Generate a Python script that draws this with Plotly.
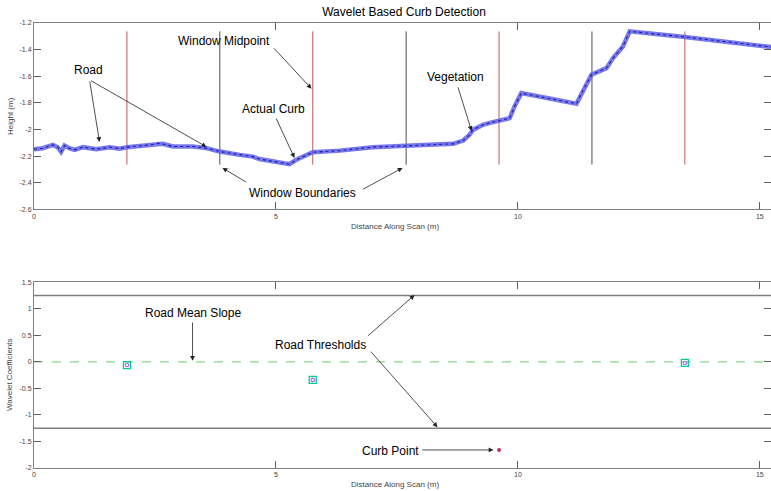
import plotly.graph_objects as go

# ---------------- data ----------------
scan_x = [0.0, 0.18, 0.39, 0.49, 0.56, 0.63, 0.73, 0.84, 1.01, 1.29, 1.56, 1.77, 1.92,
          2.39, 2.59, 2.66, 2.87, 3.28, 3.56, 3.84, 4.25, 4.52, 4.66, 5.01, 5.25, 5.28,
          5.42, 5.59, 5.76, 6.32, 7.0, 7.69, 8.66, 8.87, 9.0, 9.07, 9.21, 9.28, 9.42,
          9.63, 9.83, 9.93, 10.07, 11.21, 11.35, 11.52, 11.83, 11.97, 12.17, 12.31,
          13.45, 15.23]
scan_h = [-2.149, -2.141, -2.116, -2.133, -2.168, -2.121, -2.141, -2.153, -2.133, -2.148,
          -2.133, -2.144, -2.133, -2.116, -2.103, -2.108, -2.128, -2.128, -2.14, -2.166,
          -2.191, -2.204, -2.222, -2.246, -2.262, -2.261, -2.228, -2.198, -2.171, -2.159,
          -2.133, -2.123, -2.108, -2.083, -2.04, -2.003, -1.975, -1.965, -1.95, -1.933,
          -1.915, -1.827, -1.727, -1.807, -1.702, -1.589, -1.539, -1.462, -1.376, -1.263,
          -1.305, -1.38]

window_boundaries = [3.84, 7.69, 11.53]
window_midpoints = [1.92, 5.76, 9.61, 13.45]
line_top = -1.263
line_bottom = -2.264

road_coef_x = [1.92, 5.76, 13.45]
road_coef_y = [-0.06, -0.34, -0.02]
curb_x = [9.61]
curb_y = [-1.66]
mean_slope = 0.0
threshold = 1.25

x_ticks = [0, 5, 10, 15]
top_y_ticks = [-2.6, -2.4, -2.2, -2.0, -1.8, -1.6, -1.4, -1.2]
top_y_labels = ["-2.6", "-2.4", "-2.2", "-2", "-1.8", "-1.6", "-1.4", "-1.2"]
bot_y_ticks = [-2, -1.5, -1, -0.5, 0, 0.5, 1, 1.5]
bot_y_labels = ["-2", "-1.5", "-1", "-0.5", "0", "0.5", "1", "1.5"]
x_max = 15.23

FIG_W, FIG_H = 771, 491

# ---------------- figure ----------------
fig = go.Figure()

# window lines (top)
for xb in window_boundaries:
    fig.add_trace(go.Scatter(x=[xb, xb], y=[line_top, line_bottom], mode="lines",
                             line=dict(color="#505050", width=1), xaxis="x", yaxis="y",
                             hoverinfo="skip"))
for xm in window_midpoints:
    fig.add_trace(go.Scatter(x=[xm, xm], y=[line_top, line_bottom], mode="lines",
                             line=dict(color="#c05a5a", width=1), xaxis="x", yaxis="y",
                             hoverinfo="skip"))

# scan profile
fig.add_trace(go.Scatter(x=scan_x, y=scan_h, mode="lines",
                         line=dict(color="rgba(95,95,235,0.85)", width=4.5),
                         xaxis="x", yaxis="y"))
fig.add_trace(go.Scatter(x=scan_x, y=scan_h, mode="lines",
                         line=dict(color="rgb(30,30,150)", width=1.1, dash="dot"),
                         xaxis="x", yaxis="y"))

# bottom plot
fig.add_trace(go.Scatter(x=[0, x_max], y=[threshold, threshold], mode="lines",
                         line=dict(color="#808080", width=1.5), xaxis="x2", yaxis="y2"))
fig.add_trace(go.Scatter(x=[0, x_max], y=[-threshold, -threshold], mode="lines",
                         line=dict(color="#808080", width=1.5), xaxis="x2", yaxis="y2"))
fig.add_trace(go.Scatter(x=[0, x_max], y=[mean_slope, mean_slope], mode="lines",
                         line=dict(color="#8ad88a", width=1.2, dash="dash"),
                         xaxis="x2", yaxis="y2"))
fig.add_trace(go.Scatter(x=road_coef_x, y=road_coef_y, mode="markers",
                         marker=dict(symbol="square-open", size=7,
                                     line=dict(color="#66cc66", width=1.3)),
                         xaxis="x2", yaxis="y2"))
fig.add_trace(go.Scatter(x=road_coef_x, y=road_coef_y, mode="markers",
                         marker=dict(symbol="circle-open", size=3.5,
                                     line=dict(color="#5a5aa8", width=1.1)),
                         xaxis="x2", yaxis="y2"))
fig.add_trace(go.Scatter(x=curb_x, y=curb_y, mode="markers",
                         marker=dict(symbol="circle", size=4, color="#c0305a"),
                         xaxis="x2", yaxis="y2"))

axis_common = dict(showgrid=False, zeroline=False, showline=True, linecolor="#808080",
                   linewidth=1, mirror="ticks", ticks="inside", ticklen=7,
                   automargin=False,
                   tickcolor="#606060", tickfont=dict(size=7, color="#444",
                                                      family="Liberation Sans, Arial"))

fig.update_layout(
    width=FIG_W, height=FIG_H,
    margin=dict(l=34, r=0, t=23, b=23, autoexpand=False),
    paper_bgcolor="white", plot_bgcolor="white",
    showlegend=False,
    font=dict(family="Liberation Sans, Arial", color="black"),
    title=dict(text="Wavelet Based Curb Detection", x=0.524, xanchor="center",
               y=1 - 12 / FIG_H, yanchor="middle", yref="container",
               automargin=False,
               font=dict(size=12, color="black")),
    xaxis=dict(domain=[0, 1], range=[0, x_max], tickvals=x_ticks, anchor="y",
               **axis_common),
    yaxis=dict(domain=[0.5813, 1], range=[-2.6, -1.2], tickvals=top_y_ticks,
               ticktext=top_y_labels, anchor="x", **axis_common),
    xaxis2=dict(domain=[0, 1], range=[0, x_max], tickvals=x_ticks, anchor="y2",
                **axis_common),
    yaxis2=dict(domain=[0.0, 0.4173], range=[-2, 1.5], tickvals=bot_y_ticks,
                ticktext=bot_y_labels, anchor="x2", **axis_common),
)

small = dict(size=8, color="#444")
labels = [
    dict(text="Distance Along Scan (m)", x=0.49, y=0.5438),
    dict(text="Distance Along Scan (m)", x=0.49, y=-0.036),
    dict(text="Height (m)", x=-0.0326, y=0.791, textangle=-90),
    dict(text="Wavelet Coefficients", x=-0.0326, y=0.209, textangle=-90),
]
for lab in labels:
    fig.add_annotation(xref="paper", yref="paper", showarrow=False,
                       xanchor="center", yanchor="middle", font=small, **lab)

big = dict(size=12, color="black", family="Liberation Sans, Arial")

# text labels (data coords)
texts_top = [("Road", 1.127, -1.551), ("Window Midpoint", 3.916, -1.333),
             ("Actual Curb", 4.949, -1.846), ("Window Boundaries", 5.549, -2.477),
             ("Vegetation", 8.71, -1.604)]
for t, x, y in texts_top:
    fig.add_annotation(xref="x", yref="y", x=x, y=y, text=t, showarrow=False,
                       xanchor="center", yanchor="middle", font=big)
texts_bot = [("Road Mean Slope", 3.276, 0.92), ("Road Thresholds", 5.92, 0.316),
             ("Curb Point", 7.37, -1.68)]
for t, x, y in texts_bot:
    fig.add_annotation(xref="x2", yref="y2", x=x, y=y, text=t, showarrow=False,
                       xanchor="center", yanchor="middle", font=big)

# arrows: (tail_x, tail_y, tip_x, tip_y)
arrows_top = [(1.147, -1.627, 1.354, -2.094), (1.147, -1.627, 3.565, -2.131),
              (4.929, -1.378, 5.735, -1.694), (4.991, -1.906, 5.383, -2.214),
              (4.412, -2.402, 3.896, -2.289), (6.768, -2.455, 7.615, -2.289),
              (8.752, -1.672, 9.042, -2.011)]
for ax_, ay_, x, y in arrows_top:
    fig.add_annotation(xref="x", yref="y", axref="x", ayref="y", x=x, y=y, ax=ax_, ay=ay_,
                       text="", showarrow=True, arrowhead=2, arrowsize=1.2,
                       arrowwidth=0.8, arrowcolor="#222", standoff=0, startstandoff=0)
arrows_bot = [(3.276, 0.77, 3.276, 0.02), (6.871, 0.467, 7.863, 1.26),
              (6.933, 0.222, 8.338, -1.23), (7.99, -1.66, 9.495, -1.66)]
for ax_, ay_, x, y in arrows_bot:
    fig.add_annotation(xref="x2", yref="y2", axref="x2", ayref="y2", x=x, y=y, ax=ax_, ay=ay_,
                       text="", showarrow=True, arrowhead=2, arrowsize=1.2,
                       arrowwidth=0.8, arrowcolor="#222", standoff=0, startstandoff=0)

# remove the browser's default 8px body margin so the figure fills the window exactly
fig.write_html("out.html",
               config={"displayModeBar": False},
               post_script="document.body.style.margin='0';"
                           "document.body.style.overflow='hidden';")
